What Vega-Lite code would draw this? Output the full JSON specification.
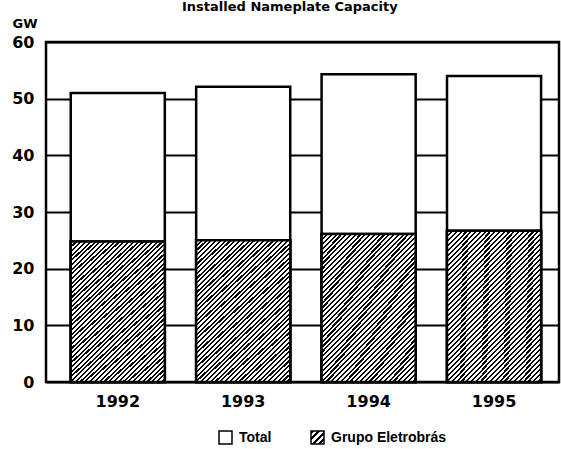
{
  "$schema": "https://vega.github.io/schema/vega-lite/v6.json",
  "width": 513,
  "height": 340,
  "autosize": {"type": "none"},
  "padding": {"left": 46, "top": 42, "right": 2, "bottom": 67},
  "background": "white",
  "title": {
    "text": "Installed Nameplate Capacity",
    "anchor": "start",
    "frame": "group",
    "dx": 136,
    "dy": 15,
    "font": "DejaVu Sans",
    "fontWeight": "bold",
    "fontSize": 13,
    "baseline": "alphabetic",
    "offset": 8,
    "color": "black"
  },
  "data": {
    "values": [
      {"year": "1992", "series": "Total", "gw": 51.0},
      {"year": "1993", "series": "Total", "gw": 52.1},
      {"year": "1994", "series": "Total", "gw": 54.3},
      {"year": "1995", "series": "Total", "gw": 54.0},
      {"year": "1992", "series": "Grupo Eletrobrás", "gw": 24.8},
      {"year": "1993", "series": "Grupo Eletrobrás", "gw": 25.0},
      {"year": "1994", "series": "Grupo Eletrobrás", "gw": 26.1},
      {"year": "1995", "series": "Grupo Eletrobrás", "gw": 26.7}
    ]
  },
  "encoding": {
    "x": {
      "field": "year",
      "type": "ordinal",
      "scale": {"paddingInner": 0.25, "paddingOuter": 0.17, "align": 0.58},
      "axis": {
        "title": null,
        "labelAngle": 0,
        "ticks": false,
        "domain": false,
        "grid": false,
        "labelFont": "DejaVu Sans",
        "labelFontWeight": "bold",
        "labelFontSize": 16,
        "labelColor": "black",
        "labelPadding": 11
      }
    },
    "y": {
      "field": "gw",
      "type": "quantitative",
      "stack": null,
      "scale": {"domain": [0, 60]},
      "axis": {
        "title": "GW",
        "titleAngle": 0,
        "titleAlign": "left",
        "titleBaseline": "alphabetic",
        "titleX": -34,
        "titleY": -15,
        "titleFont": "DejaVu Sans",
        "titleFontWeight": "bold",
        "titleFontSize": 13,
        "titleColor": "black",
        "values": [0, 10, 20, 30, 40, 50, 60],
        "ticks": false,
        "tickSize": 0,
        "domain": false,
        "grid": true,
        "gridColor": "black",
        "gridWidth": 2,
        "gridOpacity": 1,
        "labelFont": "DejaVu Sans",
        "labelFontWeight": "bold",
        "labelFontSize": 16,
        "labelColor": "black",
        "labelPadding": 12
      }
    }
  },
  "layer": [
    {
      "mark": {"type": "bar", "stroke": "black", "strokeWidth": 2.5, "opacity": 1},
      "encoding": {
        "color": {
          "field": "series",
          "type": "nominal",
          "scale": {
            "domain": ["Total", "Grupo Eletrobrás"],
            "range": [
              "white",
              {"expr": "{gradient: 'linear', x1: 0, y1: 0, x2: 1, y2: 1, stops: [{offset: 0, color: '#000'}, {offset: 0.12, color: '#000'}, {offset: 0.12, color: '#fff'}, {offset: 0.25, color: '#fff'}, {offset: 0.25, color: '#000'}, {offset: 0.37, color: '#000'}, {offset: 0.37, color: '#fff'}, {offset: 0.5, color: '#fff'}, {offset: 0.5, color: '#000'}, {offset: 0.62, color: '#000'}, {offset: 0.62, color: '#fff'}, {offset: 0.75, color: '#fff'}, {offset: 0.75, color: '#000'}, {offset: 0.87, color: '#000'}, {offset: 0.87, color: '#fff'}, {offset: 1, color: '#fff'}]}"}
            ]
          },
          "legend": {
            "orient": "none",
            "legendX": 172,
            "legendY": 388,
            "direction": "horizontal",
            "title": null,
            "symbolType": "square",
            "symbolSize": 169,
            "symbolOpacity": 1,
            "labelFont": "Liberation Sans",
            "labelFontWeight": "bold",
            "labelFontSize": 14,
            "labelColor": "black",
            "labelOffset": 6,
            "columnPadding": 36,
            "padding": 0,
            "encode": {
              "symbols": {
                "stroke": {"value": "black"},
                "strokeWidth": {"value": 1.5}
              }
            }
          }
        }
      }
    },
    {
      "transform": [{"filter": "datum.series === 'Grupo Eletrobrás'"}],
      "mark": {
        "type": "bar",
        "stroke": "black",
        "strokeWidth": 2.5,
        "opacity": 1,
        "fill": {
          "gradient": "linear",
          "x1": 0, "y1": 0, "x2": 0.754, "y2": 1.161,
          "stops": [
            {"offset":0,"color":"#000"},{"offset":0.009,"color":"#000"},{"offset":0.009,"color":"#fff"},{"offset":0.02,"color":"#fff"},
            {"offset":0.02,"color":"#000"},{"offset":0.029,"color":"#000"},{"offset":0.029,"color":"#fff"},{"offset":0.04,"color":"#fff"},
            {"offset":0.04,"color":"#000"},{"offset":0.049,"color":"#000"},{"offset":0.049,"color":"#fff"},{"offset":0.06,"color":"#fff"},
            {"offset":0.06,"color":"#000"},{"offset":0.069,"color":"#000"},{"offset":0.069,"color":"#fff"},{"offset":0.08,"color":"#fff"},
            {"offset":0.08,"color":"#000"},{"offset":0.089,"color":"#000"},{"offset":0.089,"color":"#fff"},{"offset":0.1,"color":"#fff"},
            {"offset":0.1,"color":"#000"},{"offset":0.109,"color":"#000"},{"offset":0.109,"color":"#fff"},{"offset":0.12,"color":"#fff"},
            {"offset":0.12,"color":"#000"},{"offset":0.129,"color":"#000"},{"offset":0.129,"color":"#fff"},{"offset":0.14,"color":"#fff"},
            {"offset":0.14,"color":"#000"},{"offset":0.149,"color":"#000"},{"offset":0.149,"color":"#fff"},{"offset":0.16,"color":"#fff"},
            {"offset":0.16,"color":"#000"},{"offset":0.169,"color":"#000"},{"offset":0.169,"color":"#fff"},{"offset":0.18,"color":"#fff"},
            {"offset":0.18,"color":"#000"},{"offset":0.189,"color":"#000"},{"offset":0.189,"color":"#fff"},{"offset":0.2,"color":"#fff"},
            {"offset":0.2,"color":"#000"},{"offset":0.209,"color":"#000"},{"offset":0.209,"color":"#fff"},{"offset":0.22,"color":"#fff"},
            {"offset":0.22,"color":"#000"},{"offset":0.229,"color":"#000"},{"offset":0.229,"color":"#fff"},{"offset":0.24,"color":"#fff"},
            {"offset":0.24,"color":"#000"},{"offset":0.249,"color":"#000"},{"offset":0.249,"color":"#fff"},{"offset":0.26,"color":"#fff"},
            {"offset":0.26,"color":"#000"},{"offset":0.269,"color":"#000"},{"offset":0.269,"color":"#fff"},{"offset":0.28,"color":"#fff"},
            {"offset":0.28,"color":"#000"},{"offset":0.289,"color":"#000"},{"offset":0.289,"color":"#fff"},{"offset":0.3,"color":"#fff"},
            {"offset":0.3,"color":"#000"},{"offset":0.309,"color":"#000"},{"offset":0.309,"color":"#fff"},{"offset":0.32,"color":"#fff"},
            {"offset":0.32,"color":"#000"},{"offset":0.329,"color":"#000"},{"offset":0.329,"color":"#fff"},{"offset":0.34,"color":"#fff"},
            {"offset":0.34,"color":"#000"},{"offset":0.349,"color":"#000"},{"offset":0.349,"color":"#fff"},{"offset":0.36,"color":"#fff"},
            {"offset":0.36,"color":"#000"},{"offset":0.369,"color":"#000"},{"offset":0.369,"color":"#fff"},{"offset":0.38,"color":"#fff"},
            {"offset":0.38,"color":"#000"},{"offset":0.389,"color":"#000"},{"offset":0.389,"color":"#fff"},{"offset":0.4,"color":"#fff"},
            {"offset":0.4,"color":"#000"},{"offset":0.409,"color":"#000"},{"offset":0.409,"color":"#fff"},{"offset":0.42,"color":"#fff"},
            {"offset":0.42,"color":"#000"},{"offset":0.429,"color":"#000"},{"offset":0.429,"color":"#fff"},{"offset":0.44,"color":"#fff"},
            {"offset":0.44,"color":"#000"},{"offset":0.449,"color":"#000"},{"offset":0.449,"color":"#fff"},{"offset":0.46,"color":"#fff"},
            {"offset":0.46,"color":"#000"},{"offset":0.469,"color":"#000"},{"offset":0.469,"color":"#fff"},{"offset":0.48,"color":"#fff"},
            {"offset":0.48,"color":"#000"},{"offset":0.489,"color":"#000"},{"offset":0.489,"color":"#fff"},{"offset":0.5,"color":"#fff"},
            {"offset":0.5,"color":"#000"},{"offset":0.509,"color":"#000"},{"offset":0.509,"color":"#fff"},{"offset":0.52,"color":"#fff"},
            {"offset":0.52,"color":"#000"},{"offset":0.529,"color":"#000"},{"offset":0.529,"color":"#fff"},{"offset":0.54,"color":"#fff"},
            {"offset":0.54,"color":"#000"},{"offset":0.549,"color":"#000"},{"offset":0.549,"color":"#fff"},{"offset":0.56,"color":"#fff"},
            {"offset":0.56,"color":"#000"},{"offset":0.569,"color":"#000"},{"offset":0.569,"color":"#fff"},{"offset":0.58,"color":"#fff"},
            {"offset":0.58,"color":"#000"},{"offset":0.589,"color":"#000"},{"offset":0.589,"color":"#fff"},{"offset":0.6,"color":"#fff"},
            {"offset":0.6,"color":"#000"},{"offset":0.609,"color":"#000"},{"offset":0.609,"color":"#fff"},{"offset":0.62,"color":"#fff"},
            {"offset":0.62,"color":"#000"},{"offset":0.629,"color":"#000"},{"offset":0.629,"color":"#fff"},{"offset":0.64,"color":"#fff"},
            {"offset":0.64,"color":"#000"},{"offset":0.649,"color":"#000"},{"offset":0.649,"color":"#fff"},{"offset":0.66,"color":"#fff"},
            {"offset":0.66,"color":"#000"},{"offset":0.669,"color":"#000"},{"offset":0.669,"color":"#fff"},{"offset":0.68,"color":"#fff"},
            {"offset":0.68,"color":"#000"},{"offset":0.689,"color":"#000"},{"offset":0.689,"color":"#fff"},{"offset":0.7,"color":"#fff"},
            {"offset":0.7,"color":"#000"},{"offset":0.709,"color":"#000"},{"offset":0.709,"color":"#fff"},{"offset":0.72,"color":"#fff"},
            {"offset":0.72,"color":"#000"},{"offset":0.729,"color":"#000"},{"offset":0.729,"color":"#fff"},{"offset":0.74,"color":"#fff"},
            {"offset":0.74,"color":"#000"},{"offset":0.749,"color":"#000"},{"offset":0.749,"color":"#fff"},{"offset":0.76,"color":"#fff"},
            {"offset":0.76,"color":"#000"},{"offset":0.769,"color":"#000"},{"offset":0.769,"color":"#fff"},{"offset":0.78,"color":"#fff"},
            {"offset":0.78,"color":"#000"},{"offset":0.789,"color":"#000"},{"offset":0.789,"color":"#fff"},{"offset":0.8,"color":"#fff"},
            {"offset":0.8,"color":"#000"},{"offset":0.809,"color":"#000"},{"offset":0.809,"color":"#fff"},{"offset":0.82,"color":"#fff"},
            {"offset":0.82,"color":"#000"},{"offset":0.829,"color":"#000"},{"offset":0.829,"color":"#fff"},{"offset":0.84,"color":"#fff"},
            {"offset":0.84,"color":"#000"},{"offset":0.849,"color":"#000"},{"offset":0.849,"color":"#fff"},{"offset":0.86,"color":"#fff"},
            {"offset":0.86,"color":"#000"},{"offset":0.869,"color":"#000"},{"offset":0.869,"color":"#fff"},{"offset":0.88,"color":"#fff"},
            {"offset":0.88,"color":"#000"},{"offset":0.889,"color":"#000"},{"offset":0.889,"color":"#fff"},{"offset":0.9,"color":"#fff"},
            {"offset":0.9,"color":"#000"},{"offset":0.909,"color":"#000"},{"offset":0.909,"color":"#fff"},{"offset":0.92,"color":"#fff"},
            {"offset":0.92,"color":"#000"},{"offset":0.929,"color":"#000"},{"offset":0.929,"color":"#fff"},{"offset":0.94,"color":"#fff"},
            {"offset":0.94,"color":"#000"},{"offset":0.949,"color":"#000"},{"offset":0.949,"color":"#fff"},{"offset":0.96,"color":"#fff"},
            {"offset":0.96,"color":"#000"},{"offset":0.969,"color":"#000"},{"offset":0.969,"color":"#fff"},{"offset":0.98,"color":"#fff"},
            {"offset":0.98,"color":"#000"},{"offset":0.989,"color":"#000"},{"offset":0.989,"color":"#fff"},{"offset":1,"color":"#fff"}
          ]
        }
      }
    }
  ],
  "config": {
    "view": {"stroke": "black", "strokeWidth": 2.5}
  }
}
